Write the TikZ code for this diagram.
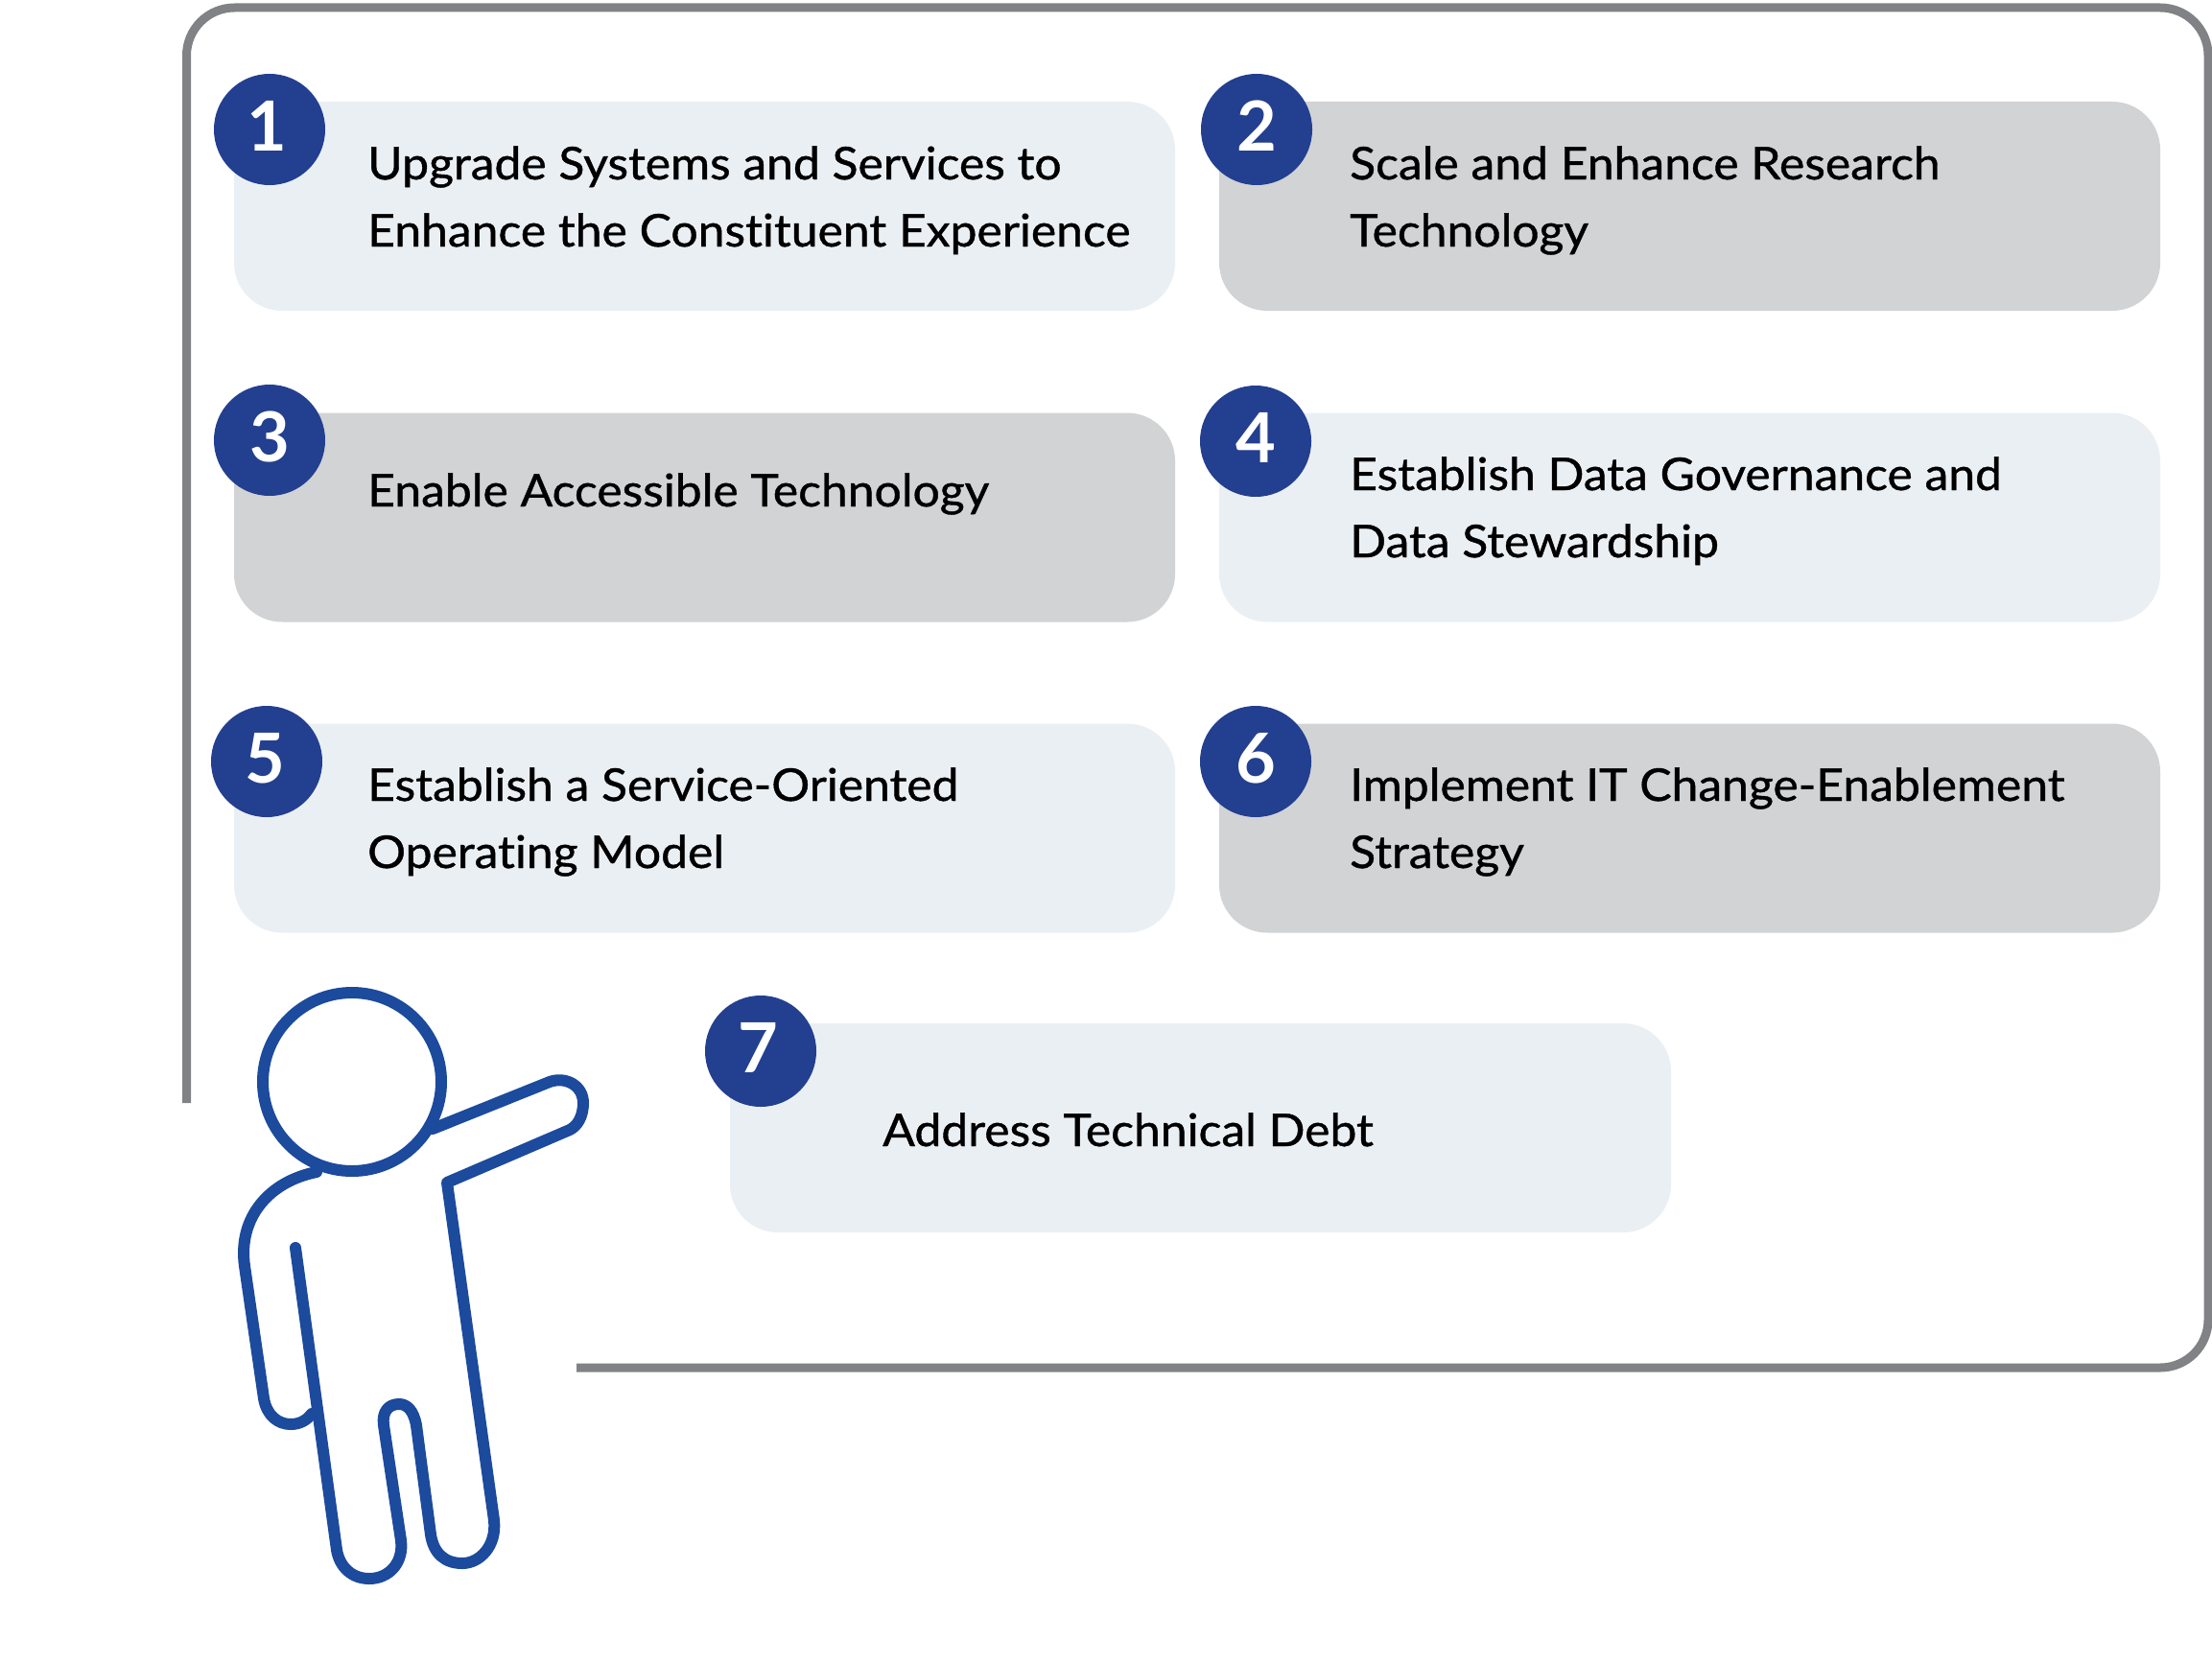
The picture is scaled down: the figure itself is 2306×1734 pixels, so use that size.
\documentclass[tikz,border=0pt]{standalone}
\usepackage{fontspec}
\setmainfont{Lato}[FakeBold=0.9,FakeStretch=1.06,Ligatures=NoCommon]
\newfontfamily\numfont{Lato Bold}
\definecolor{framegrey}{HTML}{808285}
\definecolor{palebox}{HTML}{EAEFF4}
\definecolor{greybox}{HTML}{D1D3D4}
\definecolor{badge}{HTML}{233F90}
\definecolor{figureblue}{HTML}{1C4A9C}
\tikzset{
  card/.style={rounded corners=50pt,minimum width=981pt,minimum height=218pt,inner sep=0pt,draw=none},
  palecard/.style={card,fill=palebox},
  greycard/.style={card,fill=greybox},
  numdot/.style={circle,fill=badge,text=white,minimum size=116pt,inner sep=0pt,font=\fontsize{72pt}{72pt}\numfont},
  caption/.style={anchor=base west,inner sep=0pt,text=black,font=\fontsize{47pt}{47pt}\selectfont},
  frameline/.style={draw=framegrey,line width=9pt,rounded corners=50pt},
  person/.style={draw=figureblue,line width=12pt,line join=round,line cap=round}
}
% badge digit, lifted and nudged sideways inside its circle
\newcommand{\numlabel}[2]{\raisebox{7pt}{\kern#1pt #2}}
\begin{document}
\begin{tikzpicture}[x=1pt,y=-1pt]
\useasboundingbox (0,0) rectangle (2306,1734);
\fill[white] (0,0) rectangle (2306,1734);

% outer frame, open at the lower left around the figure
\coordinate (frameA) at (194.5,1150);
\coordinate (frameB) at (601,1426);
\draw[frameline] (frameA) -- (194.5,8) -- (2302,8) -- (2302,1426) -- (frameB);

% cards
\node[palecard] (c1) at (734.5,215) {};
\node[greycard] (c2) at (1761.5,215) {};
\node[greycard] (c3) at (734.5,539.5) {};
\node[palecard] (c4) at (1761.5,539.5) {};
\node[palecard] (c5) at (734.5,863.5) {};
\node[greycard] (c6) at (1761.5,863.5) {};
\node[palecard] (c7) at (1251.5,1176) {};

% numbered badges
\node[numdot] (n1) at (281,135) {\numlabel{-5}{1}};
\node[numdot] (n2) at (1310,135) {\numlabel{1}{2}};
\node[numdot] (n3) at (281,459) {\numlabel{0}{3}};
\node[numdot] (n4) at (1309,460) {\numlabel{1}{4}};
\node[numdot] (n5) at (278,794) {\numlabel{-3}{5}};
\node[numdot] (n6) at (1309,794) {\numlabel{1}{6}};
\node[numdot] (n7) at (793,1096) {\numlabel{-5}{7}};

% card captions
\node[caption] (t1a) at (383,187) {Upgrade Systems and Services to};
\node[caption] (t1b) at (383,257) {Enhance the Constituent Experience};
\node[caption] (t2a) at (1407,187) {Scale and Enhance Research};
\node[caption] (t2b) at (1407,257) {Technology};
\node[caption] (t3a) at (383,528) {Enable Accessible Technology};
\node[caption] (t4a) at (1407,511) {Establish Data Governance and};
\node[caption] (t4b) at (1407,581) {Data Stewardship};
\node[caption] (t5a) at (383,835) {Establish a Service-Oriented};
\node[caption] (t5b) at (383,905) {Operating Model};
\node[caption] (t6a) at (1407,835) {Implement IT Change-Enablement};
\node[caption] (t6b) at (1407,905) {Strategy};
\node[caption] (t7a) at (920,1195) {Address Technical Debt};

% pointing figure
\draw[person] (367,1128) circle (93);
\draw[person] (451,1177) -- (573,1128)
  .. controls (590,1122) and (608,1132) .. (608,1150)
  .. controls (608,1164) and (602,1174) .. (594,1178)
  -- (466,1233) -- (515,1585)
  .. controls (518,1612) and (500,1630) .. (482,1630)
  .. controls (464,1630) and (452,1620) .. (449,1600)
  -- (434,1486)
  .. controls (431,1470) and (424,1464) .. (416,1464)
  .. controls (405,1464) and (398,1472) .. (400,1486)
  -- (418,1606)
  .. controls (421,1630) and (405,1646) .. (385,1646)
  .. controls (367,1646) and (354,1634) .. (351,1616)
  -- (308,1301);
\draw[person] (330,1222)
  .. controls (280,1232) and (248,1270) .. (255,1320)
  -- (275,1458)
  .. controls (278,1476) and (290,1485) .. (303,1485)
  .. controls (311,1485) and (319,1482) .. (325,1474);
\end{tikzpicture}
\end{document}
